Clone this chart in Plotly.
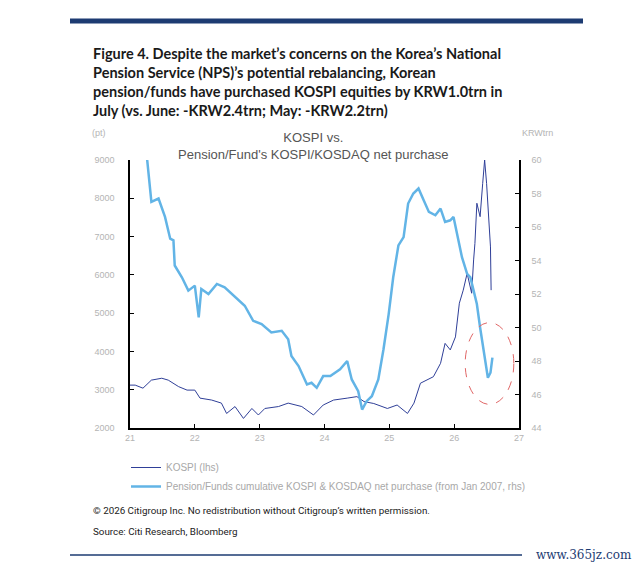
import plotly.graph_objects as go

# ---- data (decimal year, e.g. 21.5 = mid-2021) ----
kospi_x = [21.0, 21.08, 21.2, 21.33, 21.49, 21.59, 21.75, 21.88, 22.0, 22.08, 22.26, 22.41,
           22.49, 22.62, 22.75, 22.88, 22.98, 23.08, 23.29, 23.44, 23.65, 23.83, 23.98,
           24.14, 24.35, 24.50, 24.61, 24.76, 24.97, 25.12, 25.28, 25.38, 25.48, 25.58,
           25.68, 25.79, 25.86, 25.94, 26.02, 26.08, 26.14, 26.20, 26.27, 26.30, 26.32,
           26.35, 26.40, 26.44, 26.47, 26.50, 26.53, 26.56, 26.57]
kospi_y = [3120, 3120, 3040, 3250, 3300, 3250, 3080, 2990, 2990, 2780, 2730, 2650,
           2380, 2560, 2250, 2510, 2340, 2510, 2560, 2650, 2560, 2340, 2600,
           2730, 2780, 2820, 2690, 2640, 2510, 2600, 2380, 2650, 3170, 3250,
           3340, 3690, 4210, 4040, 4380, 5260, 5600, 6040, 5520, 6390, 6820,
           7870, 7520, 8390, 9000, 8390, 7520, 6730, 5600]

pension_x = [21.26, 21.33, 21.44, 21.54, 21.62, 21.67, 21.69, 21.80, 21.90, 22.0, 22.06,
             22.1, 22.21, 22.34, 22.46, 22.62, 22.77, 22.90, 23.03, 23.18, 23.34, 23.44,
             23.49, 23.60, 23.73, 23.80, 23.88, 23.98, 24.09, 24.24, 24.35, 24.42, 24.52,
             24.58, 24.65, 24.73, 24.83, 24.91, 24.99, 25.06, 25.14, 25.22, 25.29, 25.37,
             25.45, 25.53, 25.61, 25.71, 25.79, 25.86, 25.94, 25.99, 26.04, 26.12, 26.20,
             26.25, 26.30, 26.35, 26.40, 26.45, 26.49, 26.52, 26.56, 26.59]
pension_y = [60.2, 57.5, 57.7, 56.6, 55.3, 55.2, 53.7, 53.0, 52.2, 52.5, 50.6,
             52.3, 52.0, 52.6, 52.4, 51.8, 51.3, 50.4, 50.2, 49.7, 49.8, 49.3,
             48.3, 47.7, 46.6, 46.7, 46.4, 47.1, 47.1, 47.5, 48.0, 46.9, 46.2,
             45.1, 45.6, 45.9, 46.9, 48.7, 50.8, 53.0, 54.9, 55.4, 57.4, 58.0,
             58.3, 57.6, 56.9, 56.7, 57.1, 56.3, 56.4, 56.6, 55.6, 54.2, 53.2,
             53.0, 52.2, 51.4, 50.0, 48.7, 47.5, 47.0, 47.3, 48.2]

x_ticks = [21, 22, 23, 24, 25, 26, 27]
x_labels = ["21", "22", "23", "24", "25", "26", "27"]
left_ticks = [2000, 3000, 4000, 5000, 6000, 7000, 8000, 9000]
right_ticks = [44, 46, 48, 50, 52, 54, 56, 58, 60]

# ---- layout geometry (pixels in the 640x573 window; page body has an 8px margin) ----
OFF = 8
W, H = 640 - OFF, 573 - OFF
L, R, T, B = 130, 519, 160, 428


def px(xp):
    return (xp - L) / (R - L)


def py(yp):
    return (B - yp) / (B - T)


fig = go.Figure()
fig.add_trace(go.Scatter(x=kospi_x, y=kospi_y, mode="lines", name="KOSPI (lhs)",
                         legendgroup="a", line=dict(color="#2f3f98", width=1)))
fig.add_trace(go.Scatter(x=pension_x, y=pension_y, mode="lines", yaxis="y2", legendgroup="b",
                         name="Pension/Funds cumulative KOSPI & KOSDAQ net purchase (from Jan 2007, rhs)",
                         line=dict(color="#62b4e6", width=2.5)))

tickfont = dict(family="Liberation Sans, Arial", size=9, color="#b4b4b4")

fig.update_layout(
    width=W, height=H,
    margin=dict(l=L - OFF, r=640 - R, t=T - OFF, b=573 - B),
    paper_bgcolor="white", plot_bgcolor="white",
    showlegend=True,
    legend=dict(x=px(126), y=py(453), xanchor="left", yanchor="top",
                font=dict(family="Liberation Sans, Arial", size=10, color="#a8a8a8"),
                bgcolor="rgba(0,0,0,0)", tracegroupgap=0, itemwidth=30),
    xaxis=dict(range=[21, 27], tickvals=x_ticks, ticktext=x_labels, ticks="inside",
               ticklen=4, tickcolor="black", showline=True, linecolor="black", linewidth=1.5,
               showgrid=False, zeroline=False, tickfont=tickfont, ticklabelstandoff=0),
    yaxis=dict(range=[2000, 9000], tickvals=left_ticks, ticks="inside", ticklen=4,
               tickcolor="black", showline=True, linecolor="black", linewidth=1.5,
               showgrid=False, zeroline=False, tickfont=tickfont, ticklabelstandoff=12),
    yaxis2=dict(range=[44, 60], tickvals=right_ticks, overlaying="y", side="right",
                ticks="inside", ticklen=4, tickcolor="black", showline=True,
                linecolor="black", linewidth=1.5, showgrid=False, zeroline=False,
                tickfont=tickfont, ticklabelstandoff=9),
)

# red dashed ellipse highlighting the recent pension flows
fig.add_shape(type="circle", xref="x", yref="y2", x0=26.17, x1=26.92, y0=45.41, y1=50.29,
              line=dict(color="#e06666", width=1, dash="dash"))

# decorative rules
fig.add_shape(type="line", xref="paper", yref="paper", x0=px(70), x1=px(583),
              y0=py(21), y1=py(21), line=dict(color="#1d3b72", width=5))
fig.add_shape(type="line", xref="paper", yref="paper", x0=px(70), x1=px(522),
              y0=py(555), y1=py(555), line=dict(color="#1d3b72", width=1.5))

title = ("Figure 4. Despite the market’s concerns on the Korea’s National<br>"
         "Pension Service (NPS)’s potential rebalancing, Korean<br>"
         "pension/funds have purchased KOSPI equities by KRW1.0trn in<br>"
         "July (vs. June: -KRW2.4trn; May: -KRW2.2trn)")
fig.add_annotation(text=title, xref="paper", yref="paper", x=px(91), y=py(43),
                   xanchor="left", yanchor="top", align="left", showarrow=False,
                   font=dict(family="Lato, Roboto, sans-serif", size=14.5, color="#1a1a1a",
                             weight=700))

fig.add_annotation(text="KOSPI vs.<br>Pension/Fund's KOSPI/KOSDAQ net purchase",
                   xref="paper", yref="paper", x=px(313), y=py(128), xanchor="center",
                   yanchor="top", align="center", showarrow=False,
                   font=dict(family="Liberation Sans, Arial", size=13, color="#555555"))
fig.add_annotation(text="(pt)", xref="paper", yref="paper", x=px(99), y=py(133),
                   xanchor="center", yanchor="middle", showarrow=False,
                   font=dict(family="Liberation Sans, Arial", size=9, color="#b4b4b4"))
fig.add_annotation(text="KRWtrn", xref="paper", yref="paper", x=px(537), y=py(133),
                   xanchor="center", yanchor="middle", showarrow=False,
                   font=dict(family="Liberation Sans, Arial", size=9, color="#b4b4b4"))

foot_font = dict(family="Roboto, sans-serif", size=9.8, color="#222222")
fig.add_annotation(text="© 2026 Citigroup Inc. No redistribution without Citigroup’s written permission.",
                   xref="paper", yref="paper", x=px(91), y=py(510), xanchor="left",
                   yanchor="middle", showarrow=False, font=foot_font)
fig.add_annotation(text="Source: Citi Research, Bloomberg",
                   xref="paper", yref="paper", x=px(91), y=py(531), xanchor="left",
                   yanchor="middle", showarrow=False, font=foot_font)
fig.add_annotation(text="www.365jz.com", xref="paper", yref="paper", x=px(634), y=py(555),
                   xanchor="right", yanchor="middle", showarrow=False,
                   font=dict(family="DejaVu Serif, serif", size=12, color="#1d3b72"))

fig.write_html("out.html")
